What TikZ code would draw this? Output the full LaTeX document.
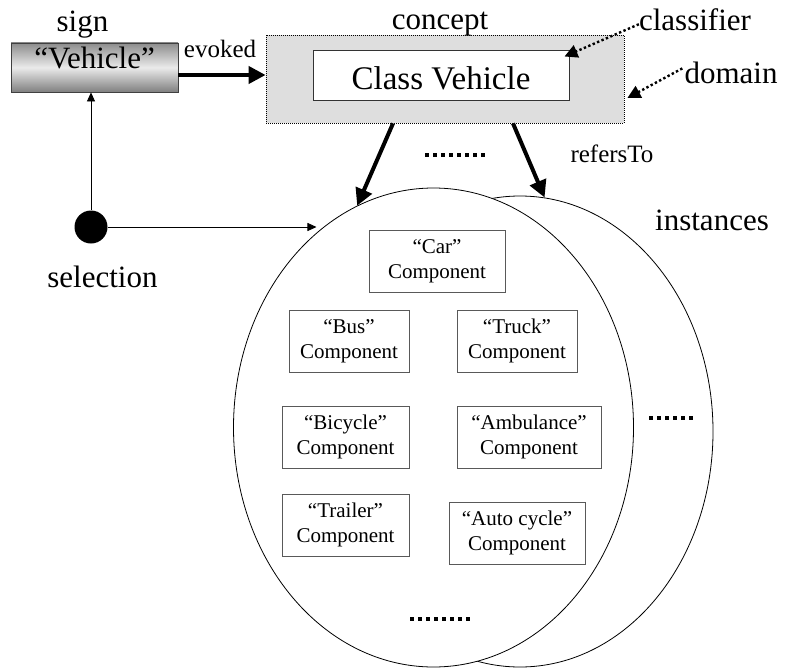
\documentclass[tikz,border=0pt]{standalone}
\usepackage{fontspec}
\setmainfont{Liberation Serif}
\usetikzlibrary{arrows.meta,shapes.geometric,calc}

\begin{document}
\begin{tikzpicture}[x=1pt,y=-1pt,
  bigtext/.style={font=\fontsize{31}{37}\selectfont, inner sep=0pt, anchor=base},
  midtext/.style={font=\fontsize{25}{30}\selectfont, inner sep=0pt, anchor=base},
  comp/.style={draw=black!65, line width=0.9pt, fill=white, align=center,
    font=\fontsize{21}{25}\selectfont, minimum height=62pt, inner sep=0pt},
  heavy/.style={line width=4pt, -{Triangle[length=17pt,width=17pt]}},
  slim/.style={line width=0.8pt, -{Triangle[length=9pt,width=8pt]}},
  pointer/.style={line width=2.4pt, dash pattern=on 2.4pt off 2.4pt,
    -{Triangle[length=13pt,width=13pt]}},
  etc/.style={line width=4pt, dash pattern=on 4pt off 4pt},
  set/.style={draw, ellipse, line width=0.8pt, inner sep=0pt},
]
\useasboundingbox (0,0) rectangle (786,669);

% sign
\node[draw=black!75, line width=0.8pt, top color=black!45, bottom color=black!50,
  middle color=black!8, minimum width=167pt, minimum height=49pt, inner sep=0pt,
  text height=25pt, text depth=24pt, font=\fontsize{31}{37}\selectfont]
  (sign) at (94.5,67.5) {“Vehicle”};
\node[bigtext] (signlbl) at (82.5,32) {sign};

% concept: domain with its classifier
\node[draw, line width=0.8pt, dash pattern=on 1pt off 1pt, fill=black!13,
  minimum width=358pt, minimum height=88pt, inner sep=0pt] (dom) at (445,79) {};
\node[draw=black!80, line width=1pt, fill=white, minimum width=256pt,
  minimum height=49pt, inner sep=0pt, text height=38pt, text depth=11pt,
  font=\fontsize{33}{40}\selectfont] (cls) at (441,75.5) {Class Vehicle};
\node[bigtext] (conceptlbl) at (440,30) {concept};
\node[bigtext] (clf) at (695,31) {classifier};
\node[bigtext] (domlbl) at (731,83) {domain};

% evoked
\draw[heavy] ([yshift=-7.5pt]sign.east) -- ([yshift=-7.5pt]sign.east -| dom.west);
\node[midtext] (evk) at (220,58) {evoked};

% pointers to classifier and domain
\draw[pointer] ([yshift=-4pt]clf.west) -- ([xshift=-5pt,yshift=-6pt]cls.north east);
\draw[pointer] ([xshift=-2pt,yshift=4pt]domlbl.west) -- ([xshift=3pt,yshift=-19pt]dom.east);

% instance sets
\node[set, minimum width=386pt, minimum height=471pt] (inst2) at (520,431.5) {};
\node[set, fill=white, minimum width=400pt, minimum height=479pt] (inst1) at (433.5,427.5) {};
\node[bigtext] (instlbl) at (712,230) {instances};

% refersTo
\draw[heavy] ([xshift=-52pt]dom.south) -- (inst1.109);
\draw[heavy] ([xshift=68pt]dom.south) -- (inst2.84);
\node[midtext] (ref) at (612,162) {refersTo};
\draw[etc] (425,155) -- (485,155);

% selection
\node[circle, fill=black, minimum size=33pt, inner sep=0pt] (sel) at (91,227) {};
\node[bigtext] (sellbl) at (102.5,287) {selection};
\draw[slim] (sel) -- (sel |- sign.south);
\draw[slim] (sel) -- (sel -| inst1.121);

% components
\node[comp, minimum width=136pt] (car) at (437,261) {“Car”\\Component};
\node[comp, minimum width=120pt] (bus) at (349,341) {“Bus”\\Component};
\node[comp, minimum width=120pt] (truck) at (517,341) {“Truck”\\Component};
\node[comp, minimum width=127pt] (bicycle) at (345.5,437) {“Bicycle”\\Component};
\node[comp, minimum width=144pt] (ambulance) at (529,437) {“Ambulance”\\Component};
\node[comp, minimum width=127pt] (trailer) at (345.5,525) {“Trailer”\\Component};
\node[comp, minimum width=136pt] (autocycle) at (517,533) {“Auto cycle”\\Component};

% more instances
\draw[etc] (649,418) -- (693,418);
\draw[etc] (410,619) -- (470,619);
\end{tikzpicture}
\end{document}
